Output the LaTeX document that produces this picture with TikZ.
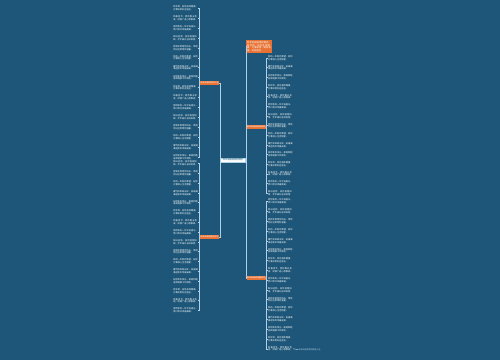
\documentclass[tikz,border=0pt]{standalone}
\usepackage{fontspec}
\newfontfamily\cjk{Noto Sans CJK SC}
\XeTeXlinebreaklocale "zh"
\XeTeXlinebreakskip = 0pt plus 1pt
\definecolor{bg}{RGB}{29,86,120}
\definecolor{org}{RGB}{232,114,52}
\definecolor{ln}{RGB}{176,208,230}
\newcommand\pooltext[1]{\ifcase#1 新年到，祝你身体健康，万事如意好运连连。\or
新春佳节，愿你事业有成，财源广进心想事成。\or
愿你新的一年平安喜乐，笑口常开幸福美满。\or
辞旧迎新，祝你前程似锦，步步高升吉祥如意。\or
愿新年带给你快乐，带给你好运带给你温暖。\or
新的一年新的希望，祝你万事顺心生活甜蜜。\or
爆竹声声辞旧岁，祝福满满迎新年幸福安康。\or
祝你新年快乐，家庭和睦身体健康工作顺利。\fi}
\tikzset{
  leaf/.style={text=white, align=left, text width=24.5pt, inner sep=0pt,
    font=\cjk\fontsize{2.2}{2.75}\selectfont},
  branch/.style={fill=org, text=white, inner sep=0.4pt, minimum width=19pt,
    minimum height=3.2pt, font=\cjk\fontsize{2}{2.2}\selectfont},
  conn/.style={draw=ln, line width=0.5pt},
}
\begin{document}
\begin{tikzpicture}[x=1pt,y=-1pt]
\fill[bg] (0,0) rectangle (500,360);
\useasboundingbox (0,0) rectangle (500,360);

% centre
\node[fill=white, draw=ln, text=bg, inner sep=0.5pt, minimum width=25pt, minimum height=4pt,
  font=\cjk\fontsize{2.2}{2.4}\selectfont] (C) at (233,160) {新年祝福语简短精选};

% title node
\node[fill=org, text=white, align=left, text width=24pt, inner sep=1pt,
  font=\cjk\fontsize{2.3}{2.9}\selectfont, anchor=north west] (T) at (246,40)
  {新年祝福语简短精选：新年到，祝你身体健康，万事如意，阖家幸福，好运连连。};

% branches
\node[branch] (L1) at (209.5,83) {新年祝福语简短大全};
\node[branch] (L2) at (209.5,237) {新年祝福语精选句子};
\node[branch] (R1) at (256,127) {新年祝福语经典语录};
\node[branch] (R2) at (256,278) {新年祝福语温馨短句};

\draw[conn] (C.west) -- ++(-0.5,0) |- (L1.east);
\draw[conn] (C.west) -- ++(-0.5,0) |- (L2.east);
\draw[conn] (C.east) -- ++(0.5,0) |- (T.west);
\draw[conn] (C.east) -- ++(0.5,0) |- (R1.west);
\draw[conn] (C.east) -- ++(0.5,0) |- (R2.west);

% left children
\foreach \i in {0,...,15}{
  \pgfmathsetmacro\yy{8+\i*9.95}
  \pgfmathtruncatemacro\k{mod(\i,8)}
  \node[leaf, anchor=east] (L1c\i) at (198,\yy) {\pooltext{\k}};
  \draw[conn] (L1.west) -- ++(-1,0) |- (L1c\i.east);
}
\foreach \i in {0,...,15}{
  \pgfmathsetmacro\yy{163.5+\i*9.8}
  \pgfmathtruncatemacro\k{mod(\i+3,8)}
  \node[leaf, anchor=east] (L2c\i) at (198,\yy) {\pooltext{\k}};
  \draw[conn] (L2.west) -- ++(-1,0) |- (L2c\i.east);
}
% right children
\foreach \i in {0,...,14}{
  \pgfmathsetmacro\yy{58+\i*9.65}
  \pgfmathtruncatemacro\k{mod(\i+5,8)}
  \node[leaf, anchor=west] (R1c\i) at (268,\yy) {\pooltext{\k}};
  \draw[conn] (R1.east) -- ++(1,0) |- (R1c\i.west);
}
\foreach \i in {0,...,15}{
  \pgfmathsetmacro\yy{201.5+\i*9.82}
  \pgfmathtruncatemacro\k{mod(\i+2,8)}
  \node[leaf, anchor=west] (R2c\i) at (268,\yy) {\pooltext{\k}};
  \draw[conn] (R2.east) -- ++(1,0) |- (R2c\i.west);
}
% small trailing label
\node[text=ln, inner sep=0.3pt, font=\cjk\fontsize{2}{2.2}\selectfont, anchor=west] (W) at (298,349.5) {新年祝福语简短精选大全};
\draw[conn] (R2c15.east) -- (W.west);
\end{tikzpicture}
\end{document}
